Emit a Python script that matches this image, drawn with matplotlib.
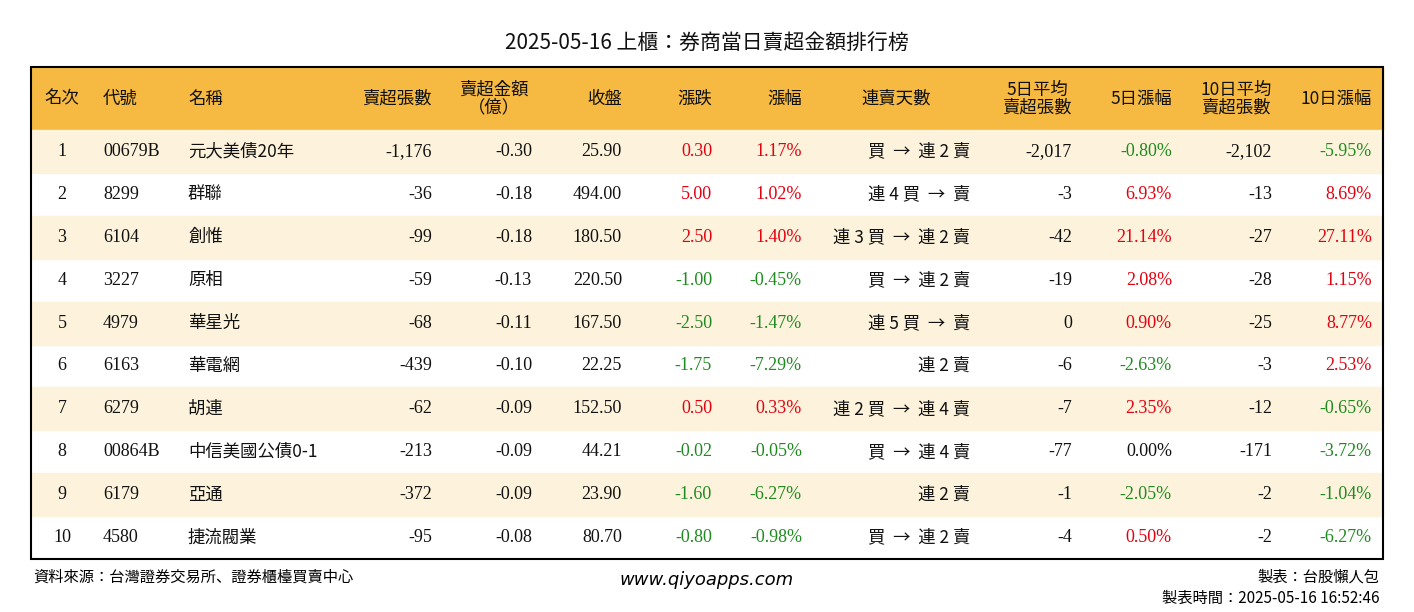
import matplotlib.pyplot as plt
from matplotlib import font_manager
from matplotlib.font_manager import FontProperties
from matplotlib.patches import Rectangle

SERIF = 'Liberation Serif'

# find a CJK font file directly
cands = [f for f in font_manager.fontManager.ttflist if 'CJK' in f.name or 'CJK' in f.fname]
cands.sort(key=lambda f: (('TC' not in f.name and 'TC' not in f.fname), f.weight != 400, f.fname))
CJK_PATH = cands[0].fname if cands else None

def cjk(size):
    if CJK_PATH:
        return FontProperties(fname=CJK_PATH, size=size)
    return FontProperties(family='Noto Sans CJK TC', size=size)

title = '2025-05-16 上櫃：券商當日賣超金額排行榜'
ranks = [1, 2, 3, 4, 5, 6, 7, 8, 9, 10]
codes = ['00679B', '8299', '6104', '3227', '4979', '6163', '6279', '00864B', '6179', '4580']
names = ['元大美債20年', '群聯', '創惟', '原相', '華星光', '華電網', '胡連', '中信美國公債0-1', '亞通', '捷流閥業']
net_lots = [-1176, -36, -99, -59, -68, -439, -62, -213, -372, -95]
net_amount = [-0.30, -0.18, -0.18, -0.13, -0.11, -0.10, -0.09, -0.09, -0.09, -0.08]
close = [25.90, 494.00, 180.50, 220.50, 167.50, 22.25, 152.50, 44.21, 23.90, 80.70]
change = [0.30, 5.00, 2.50, -1.00, -2.50, -1.75, 0.50, -0.02, -1.60, -0.80]
change_pct = [1.17, 1.02, 1.40, -0.45, -1.47, -7.29, 0.33, -0.05, -6.27, -0.98]
streak = ['買 → 連 2 賣', '連 4 買 → 賣', '連 3 買 → 連 2 賣', '買 → 連 2 賣', '連 5 買 → 賣',
          '連 2 賣', '連 2 買 → 連 4 賣', '買 → 連 4 賣', '連 2 賣', '買 → 連 2 賣']
avg5 = [-2017, -3, -42, -19, 0, -6, -7, -77, -1, -4]
pct5 = [-0.80, 6.93, 21.14, 2.08, 0.90, -2.63, 2.35, 0.00, -2.05, 0.50]
avg10 = [-2102, -13, -27, -28, -25, -3, -12, -171, -2, -2]
pct10 = [-5.95, 8.69, 27.11, 1.15, 8.77, 2.53, -0.65, -3.72, -1.04, -6.27]

RED, GREEN, BLACK = '#e3000f', '#1f8a1f', '#111111'

def col(v):
    return RED if v > 0 else GREEN if v < 0 else BLACK

fig = plt.figure(figsize=(14.14, 6.12), dpi=100)
ax = fig.add_axes([0, 0, 1, 1])
ax.set_xlim(0, 1414)
ax.set_ylim(612, 0)
ax.axis('off')

ax.text(707, 43, title, ha='center', va='center', fontproperties=cjk(15), color=BLACK)

x0, x1, top, head_h, row_h = 31, 1383, 67, 63, 42.9
ax.add_patch(Rectangle((x0, top), x1 - x0, head_h, color='#f6b942', zorder=0))
for i in range(len(ranks)):
    if i % 2 == 0:
        ax.add_patch(Rectangle((x0, top + head_h + i * row_h), x1 - x0, row_h, color='#fdf3dc', zorder=0))
bottom = top + head_h + len(ranks) * row_h
ax.add_patch(Rectangle((x0, top), x1 - x0, bottom - top, fill=False, ec='black', lw=1.5, zorder=3))

hy = top + head_h / 2
headers = [(62, '名次', 'center'), (103, '代號', 'left'), (188, '名稱', 'left'),
           (432, '賣超張數', 'right'), (494, '賣超金額\n（億）', 'center'), (622, '收盤', 'right'),
           (712, '漲跌', 'right'), (802, '漲幅', 'right'), (896, '連賣天數', 'center'),
           (1072, '5日平均\n賣超張數', 'right'), (1172, '5日漲幅', 'right'),
           (1272, '10日平均\n賣超張數', 'right'), (1372, '10日漲幅', 'right')]
for x, t, ha in headers:
    ax.text(x, hy, t, ha=ha, va='center', fontproperties=cjk(12.5), color=BLACK, linespacing=0.95,
            multialignment='center')

for i in range(len(ranks)):
    y = top + head_h + (i + 0.5) * row_h
    cells = [(62, str(ranks[i]), 'center', BLACK, SERIF), (103, codes[i], 'left', BLACK, SERIF),
             (188, names[i], 'left', BLACK, None), (432, f'{net_lots[i]:,}', 'right', BLACK, SERIF),
             (532, f'{net_amount[i]:.2f}', 'right', BLACK, SERIF),
             (622, f'{close[i]:.2f}', 'right', BLACK, SERIF),
             (712, f'{change[i]:.2f}', 'right', col(change[i]), SERIF),
             (802, f'{change_pct[i]:.2f}%', 'right', col(change_pct[i]), SERIF),
             (970, streak[i], 'right', BLACK, None), (1072, f'{avg5[i]:,}', 'right', BLACK, SERIF),
             (1172, f'{pct5[i]:.2f}%', 'right', col(pct5[i]), SERIF),
             (1272, f'{avg10[i]:,}', 'right', BLACK, SERIF),
             (1372, f'{pct10[i]:.2f}%', 'right', col(pct10[i]), SERIF)]
    for x, t, ha, c, f in cells:
        if f:
            ax.text(x, y, t, ha=ha, va='center', fontsize=13, family=f, color=c)
        else:
            ax.text(x, y, t.replace(' → ', '  →  '), ha=ha, va='center', fontproperties=cjk(12.5), color=c)

ax.text(33, 577, '資料來源：台灣證券交易所、證券櫃檯買賣中心', ha='left', va='center', fontproperties=cjk(11))
ax.text(707, 580, 'www.qiyoapps.com', ha='center', va='center', fontsize=13, style='italic', family='DejaVu Sans')
ax.text(1379, 577, '製表：台股懶人包', ha='right', va='center', fontproperties=cjk(11))
ax.text(1379, 598, '製表時間：2025-05-16 16:52:46', ha='right', va='center', fontproperties=cjk(11))

fig.savefig('out.png', dpi=100)
